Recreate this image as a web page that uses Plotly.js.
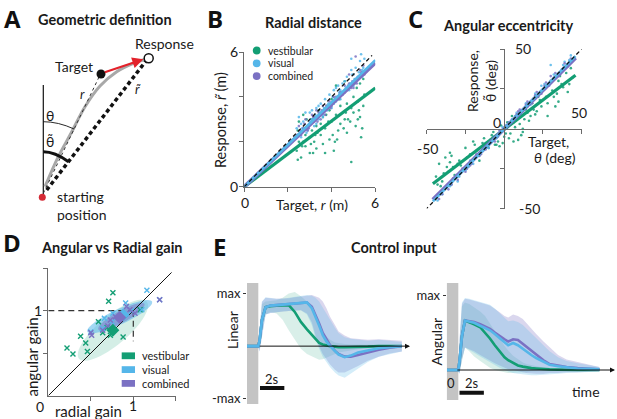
<!DOCTYPE html>
<html><head><meta charset="utf-8">
<script src="https://cdn.plot.ly/plotly-3.0.1.min.js"></script>
<style>html,body{margin:0;padding:0;background:#fff}#chart{width:617px;height:419px}</style>
</head><body><div id="chart"></div>
<script>
// ---------- colours ----------
const cVest = '#139e74', cVis = '#55b6e9', cComb = '#7b71c3';
const seriesNames = ['vestibular', 'visual', 'combined'];

// ---------- Panel A : geometric diagram (diagram units) ----------
const aVertX = [43.3, 43.3], aVertY = [85, 196];
const aTrajX = [45, 58.3, 71, 85, 100, 116.7, 133.3, 146];
const aTrajY = [186.7, 156.7, 133.3, 106.7, 86, 71.7, 63.3, 59];
const aRX = [43.3, 100], aRY = [193.3, 75];
const aRtX = [46.7, 146.7], aRtY = [190, 60];
const aStart = [42.3, 197.3], aTarget = [101, 74], aResponse = [148.7, 58.3];
const aArrowFrom = [103.3, 72.7], aArrowTo = [143.3, 59.3];
const aThetaArc = [[43.3, 121.7], [58.2, 121.7], [74.1, 129]];
const aThetaTArc = [[43.3, 151.7], [54.9, 151.7], [68.5, 161.7]];

// ---------- Panel B : radial distance ----------
const bVestR  = [2.4,2.5,2.5,2.6,2.6,2.7,2.8,2.9,3.0,3.0,3.1,3.2,3.3,3.3,3.4,3.5,3.6,3.6,3.7,3.8,3.9,4.0,4.0,4.1,4.2,4.3,4.4,4.4,4.5,4.6,4.7,4.7,4.8,4.9,5.0,5.0,5.1,5.2,5.3,5.3,5.4,5.5,2.8,3.5,4.2,4.9,5.2,3.1,3.9,4.6,2.45,2.7,3.25,3.7,4.15,4.65,5.15,5.45,
  2.45,2.55,2.85,3.05,3.35,3.55,3.85,4.05,4.35,4.55,4.85,5.05,5.25,5.45,3.15,3.75,4.25,4.75,2.65,5.35];
const bVestRt = [1.6,2.9,2.0,1.3,2.4,3.2,1.8,2.6,1.5,2.2,3.0,2.0,2.7,1.7,3.4,2.3,1.9,3.1,2.6,3.6,2.1,2.9,3.9,1.6,3.2,2.5,3.6,2.8,4.2,3.0,2.4,3.7,4.4,1.1,3.3,4.0,2.7,3.8,4.6,3.1,2.6,4.1,2.3,2.8,4.5,3.5,3.0,2.5,3.4,4.7,1.2,2.0,2.3,1.5,2.0,3.3,4.4,3.6,
  2.5,1.9,3.0,1.9,2.4,3.3,2.9,2.3,3.9,2.6,2.9,4.6,3.4,4.8,1.5,3.2,2.1,3.0,1.8,2.2];
const bVisR   = [2.4,2.5,2.6,2.7,2.8,2.9,3.0,3.1,3.2,3.3,3.4,3.5,3.6,3.7,3.8,3.9,4.0,4.1,4.2,4.3,4.4,4.5,4.6,4.7,4.8,4.9,5.0,5.1,5.2,5.3,5.4,5.5,2.6,3.0,3.4,3.8,4.2,4.6,5.0,5.4,2.9,3.6,4.4,5.2,4.9,4.1,3.3,
  2.45,2.65,2.85,3.05,3.25,3.45,3.65,3.85,4.05,4.25,4.45,4.65,4.85,5.05,5.25,5.45,3.15,4.35,4.95,5.35];
const bVisRt  = [2.6,3.1,2.2,2.9,3.3,2.5,2.9,3.4,2.7,3.5,3.0,3.7,3.2,3.9,3.4,4.1,3.5,4.3,3.8,4.5,3.9,4.6,4.2,4.9,4.3,5.2,4.5,5.3,4.8,5.6,4.9,5.7,2.8,3.3,3.6,3.6,4.4,4.7,5.0,5.2,2.6,3.1,4.3,6.1,5.7,3.7,2.8,
  2.3,2.6,2.4,3.0,3.2,3.3,3.5,3.7,4.0,3.9,4.1,4.4,4.6,4.8,5.1,5.3,3.0,4.2,5.0,5.9];
const bCombR  = [2.4,2.5,2.7,2.8,3.0,3.1,3.2,3.4,3.5,3.6,3.8,3.9,4.0,4.2,4.3,4.4,4.6,4.7,4.8,5.0,5.1,5.2,5.4,5.5,2.6,3.3,3.7,4.1,4.5,4.9,5.3,2.9,4.0,5.1,4.8,3.2,
  2.55,2.75,2.95,3.15,3.35,3.55,3.75,3.95,4.15,4.35,4.55,4.75,4.95,5.15,5.35,5.45];
const bCombRt = [2.3,2.7,2.6,3.0,2.8,3.2,3.1,3.3,3.0,3.6,3.5,3.8,3.6,4.0,3.9,4.2,4.5,4.3,4.6,4.4,4.8,4.9,5.1,5.0,2.3,3.4,3.2,4.0,4.1,4.4,5.2,2.5,3.7,5.8,5.0,2.9,
  2.5,2.8,2.6,3.1,2.9,3.4,3.6,3.5,3.9,4.1,4.2,4.5,4.7,4.6,5.1,5.4];
const bLineX = [0, 6];
const bVestFit = [0, 4.4], bVisFit = [0, 5.64], bCombFit = [0, 5.52];
const bUnityX = [0, 5.85], bUnityY = [0, 5.85];

// ---------- Panel C : angular eccentricity ----------
const cVestT  = [-44,-42,-40,-38,-36,-35,-33,-31,-29,-27,-25,-22,-19,-16,-13,-10,-7,-4,-2,0,2,4,6,8,10,12,14,16,18,20,22,24,26,28,30,32,34,36,38,40,42,44,-41,-37,-30,-20,-5,5,15,25,35,43,-34,33,28,-3,3,9,12,
  -43,-39,-35,-32,-28,-24,-18,-14,-8,-6,1,7,11,17,21,23,27,31,35,37,41,-1,13,19];
const cVestRt = [-30,-22,-33,-18,-27,-15,-24,-30,-20,-26,-12,-16,-10,-20,-6,-12,-2,-8,2,-5,4,-3,-8,6,3,-2,12,5,16,9,20,14,25,16,30,20,22,33,26,35,28,32,-36,-24,-22,-8,-10,8,10,18,30,38,-17,14,8,-11,-6,-7,0,
  -35,-28,-21,-29,-23,-18,-14,-9,-4,-10,-3,1,-4,8,11,18,20,24,17,28,23,-9,6,12];
const cVisT   = [-43,-40,-37,-34,-31,-28,-25,-22,-19,-16,-13,-10,-7,-4,-1,2,5,8,11,14,17,20,23,26,29,32,35,38,41,43,-30,-12,6,24,39,30,-20,15,
  -41,-35,-29,-23,-17,-11,-5,1,7,13,19,25,31,37,42];
const cVisRt  = [-45,-41,-36,-35,-29,-27,-26,-20,-18,-17,-11,-12,-5,-5,1,1,6,10,9,16,15,22,22,28,27,34,33,40,39,46,-33,-9,4,27,42,40,-22,14,
  -40,-36,-30,-24,-16,-10,-6,2,8,12,19,24,30,37,43];
const cCombT  = [-42,-39,-36,-33,-30,-27,-24,-21,-18,-15,-12,-9,-6,-3,0,3,6,9,12,15,18,21,24,27,30,33,36,39,42,10,30,-25,20,
  -40,-34,-28,-22,-16,-10,-4,2,8,14,20,26,32,38,43];
const cCombRt = [-44,-38,-38,-31,-32,-25,-25,-22,-16,-16,-13,-7,-8,-1,0,4,4,11,11,17,16,23,22,29,29,35,34,41,41,12,33,-27,21,
  -41,-35,-27,-23,-17,-9,-4,1,9,15,19,27,32,38,44];
const cLineX = [-46, 46];
const cVestFit = [-34.5, 33.6], cVisFit = [-45.5, 45.5], cCombFit = [-44.5, 44.5];
const cUnity = [-51, 51];

// ---------- Panel D : angular vs radial gain ----------
const dVestRad = [0.22,0.29,0.38,0.44,0.46,0.59,0.64,0.71,0.76,0.73,0.88,1.08,0.69];
const dVestAng = [0.56,0.49,0.70,0.62,0.52,0.87,0.74,1.11,1.21,0.71,0.69,1.01,0.80];
const dVisRad  = [1.16,1.31,0.91,0.76,0.75,0.64,1.10,0.50,0.66,0.98,0.85];
const dVisAng  = [1.24,1.13,1.09,0.97,0.87,0.79,1.01,0.75,0.91,1.00,0.95];
const dCombRad = [0.50,0.64,0.73,0.79,0.84,0.92,1.02,1.31,0.51,0.96,0.70];
const dCombAng = [0.74,0.77,0.89,0.93,0.93,1.05,0.97,1.13,0.71,1.01,0.82];
const dMeanRad = [0.76, 0.88, 0.84];
const dMeanAng = [0.77, 0.95, 0.92];
// covariance ellipses: centre, semi-axes, tilt (deg)
const dEllCx = [0.76, 0.84, 0.86], dEllCy = [0.77, 0.93, 0.93];
const dEllA  = [0.52, 0.42, 0.31], dEllB = [0.17, 0.09, 0.07], dEllAng = [40, 25, 29];
const dUnity = [0, 1.45];
const dRefH_X = [0, 1], dRefH_Y = [1, 1];
const dRefV_X = [1, 1], dRefV_Y = [1, 0.64];

// ---------- Panel E : control input ----------
const eLinT = [-0.93,0,0.1,0.3,0.6,1.0,1.5,2.0,2.5,3.0,3.5,4.0,4.4,4.7,5.0,5.3,5.6,5.9,6.3,6.6,7.1,7.6,8.2,9.0,9.9,10.8,11.8];
const eLinVis  = [0,0,0.1,0.5,0.74,0.77,0.78,0.79,0.8,0.81,0.82,0.83,0.72,0.57,0.39,0.21,0.09,0.0,-0.1,-0.16,-0.21,-0.18,-0.12,-0.08,-0.04,-0.02,0];
const eLinComb = [0,0,0.1,0.5,0.74,0.77,0.78,0.79,0.8,0.81,0.82,0.83,0.75,0.6,0.43,0.25,0.12,0.02,-0.09,-0.15,-0.2,-0.2,-0.17,-0.12,-0.07,-0.03,0];
const eLinVest = [0,0,0.1,0.5,0.74,0.76,0.77,0.78,0.78,0.65,0.46,0.32,0.21,0.13,0.06,0.03,0.01,0,-0.01,-0.02,-0.02,-0.02,-0.02,-0.01,0,0,0];
const eLinVisHi  = [0.02,0.02,0.3,0.85,0.93,0.92,0.9,0.9,0.92,0.94,0.95,0.97,0.96,0.92,0.85,0.75,0.62,0.5,0.35,0.25,0.17,0.14,0.12,0.1,0.12,0.1,0.08];
const eLinVisLo  = [-0.02,-0.02,-0.1,0.2,0.6,0.63,0.65,0.66,0.67,0.68,0.68,0.6,0.4,0.15,-0.05,-0.2,-0.3,-0.4,-0.5,-0.56,-0.6,-0.52,-0.42,-0.3,-0.2,-0.15,-0.1];
const eLinCombHi = [0.02,0.02,0.3,0.84,0.92,0.91,0.9,0.9,0.91,0.93,0.95,0.96,0.97,0.95,0.92,0.85,0.72,0.56,0.4,0.28,0.2,0.15,0.13,0.12,0.13,0.12,0.1];
const eLinCombLo = [-0.02,-0.02,-0.1,0.2,0.6,0.63,0.65,0.66,0.67,0.68,0.68,0.62,0.45,0.2,0.0,-0.15,-0.25,-0.35,-0.45,-0.5,-0.5,-0.45,-0.38,-0.28,-0.2,-0.14,-0.1];
const eLinVestHi = [0.01,0.01,0.3,0.8,0.85,0.86,0.87,0.92,1.0,1.03,0.95,0.85,0.72,0.55,0.4,0.28,0.18,0.12,0.07,0.05,0.04,0.03,0.03,0.02,0.02,0.02,0.02];
const eLinVestLo = [-0.01,-0.01,-0.05,0.3,0.6,0.65,0.62,0.5,0.3,0.12,-0.05,-0.15,-0.2,-0.23,-0.26,-0.25,-0.22,-0.18,-0.14,-0.12,-0.1,-0.08,-0.06,-0.04,-0.03,-0.02,-0.02];

const eAngT = [-0.93,0,0.1,0.3,0.55,0.9,1.3,1.8,2.2,2.6,3.0,3.4,3.8,4.1,4.5,4.9,5.3,5.6,6.0,6.4,7.0,7.5,8.2,8.9,9.8,10.7,11.6];
const eAngVis  = [0,0,0.12,0.45,0.66,0.65,0.63,0.59,0.56,0.53,0.48,0.42,0.37,0.33,0.36,0.33,0.28,0.24,0.2,0.16,0.11,0.07,0.05,0.035,0.02,0.015,0.01];
const eAngComb = [0,0,0.12,0.45,0.66,0.65,0.64,0.61,0.58,0.55,0.5,0.45,0.41,0.38,0.41,0.4,0.35,0.3,0.25,0.2,0.13,0.08,0.06,0.04,0.025,0.015,0.01];
const eAngVest = [0,0,0.12,0.45,0.66,0.64,0.61,0.57,0.5,0.42,0.33,0.25,0.17,0.13,0.09,0.06,0.045,0.035,0.025,0.02,0.01,0.008,0.005,0,0,0,0];
const eAngVisHi  = [0.02,0.02,0.4,0.9,0.96,0.95,0.93,0.91,0.89,0.87,0.82,0.76,0.7,0.65,0.66,0.64,0.6,0.55,0.48,0.42,0.33,0.25,0.17,0.12,0.09,0.06,0.04];
const eAngVisLo  = [-0.02,-0.02,-0.05,0.15,0.3,0.27,0.23,0.18,0.14,0.11,0.07,0.03,0.0,-0.02,-0.04,-0.05,-0.06,-0.07,-0.07,-0.07,-0.06,-0.06,-0.05,-0.04,-0.03,-0.03,-0.02];
const eAngCombHi = [0.02,0.02,0.4,0.88,0.95,0.94,0.92,0.9,0.88,0.86,0.82,0.77,0.72,0.7,0.74,0.72,0.68,0.62,0.55,0.48,0.38,0.3,0.2,0.14,0.1,0.07,0.04];
const eAngCombLo = [-0.02,-0.02,-0.05,0.14,0.3,0.28,0.25,0.2,0.16,0.13,0.09,0.06,0.03,0.01,0.0,-0.02,-0.03,-0.04,-0.05,-0.05,-0.05,-0.04,-0.04,-0.03,-0.03,-0.02,-0.02];
const eAngVestHi = [0.01,0.01,0.35,0.85,0.9,0.88,0.84,0.78,0.72,0.62,0.52,0.42,0.32,0.26,0.19,0.14,0.1,0.08,0.06,0.05,0.03,0.02,0.015,0.01,0.01,0.01,0.01];
const eAngVestLo = [-0.01,-0.01,-0.03,0.12,0.3,0.25,0.18,0.12,0.07,0.03,0.0,-0.02,-0.03,-0.04,-0.04,-0.04,-0.03,-0.03,-0.02,-0.02,-0.02,-0.01,-0.01,-0.01,-0.01,-0.01,-0.01];

// ---------- helpers ----------
const W = 617, H = 419;
const fx = p => p / W, fy = p => 1 - p / H;
const FONT = 'Lato, "Noto Sans", sans-serif';
const TXT = '#1a1a1a', AX = '#6a6a6a';

function sc(x, y, ax, opts) {
  return Object.assign({type: 'scatter', x: x, y: y, xaxis: 'x' + ax, yaxis: 'y' + ax,
    hoverinfo: 'skip', showlegend: false}, opts);
}
function line(x, y, ax, color, width, dash) {
  return sc(x, y, ax, {mode: 'lines', line: {color: color, width: width, dash: dash || 'solid'}});
}
function band(t, lo, hi, ax, fill) {
  return sc(t.concat(t.slice().reverse()), lo.concat(hi.slice().reverse()), ax,
    {mode: 'lines', line: {width: 0}, fill: 'toself', fillcolor: fill});
}
function ann(text, x, y, size, extra) {
  return Object.assign({text: text, x: fx(x), y: fy(y), xref: 'paper', yref: 'paper', showarrow: false,
    xanchor: 'center', yanchor: 'middle', font: {family: FONT, size: size, color: TXT}}, extra || {});
}
function ellipsePath(cx, cy, a, b, angDeg) {
  const th = angDeg * Math.PI / 180; let d = '';
  for (let k = 0; k <= 60; k++) {
    const p = 2 * Math.PI * k / 60;
    const ex = a * Math.cos(p), ey = b * Math.sin(p);
    const X = cx + ex * Math.cos(th) - ey * Math.sin(th);
    const Y = cy + ex * Math.sin(th) + ey * Math.cos(th);
    d += (k === 0 ? 'M ' : ' L ') + X.toFixed(4) + ' ' + Y.toFixed(4);
  }
  return d + ' Z';
}

const traces = [];
// Panel A
traces.push(line(aVertX, aVertY, '', '#111', 1.2));
traces.push(sc(aTrajX, aTrajY, '', {mode: 'lines', line: {color: '#a8a8a8', width: 3, shape: 'spline'}}));
traces.push(line(aRX, aRY, '', '#333', 1, '3px,3px'));
traces.push(line(aRtX, aRtY, '', '#111', 3.5, '4px,3px'));
traces.push(sc([aStart[0]], [aStart[1]], '', {mode: 'markers', marker: {color: '#d42a35', size: 7}}));
traces.push(sc([aTarget[0]], [aTarget[1]], '', {mode: 'markers', marker: {color: '#111', size: 9}}));
traces.push(sc([aResponse[0]], [aResponse[1]], '', {mode: 'markers', marker: {color: '#fff', size: 9, line: {color: '#111', width: 1.5}}}));

// Panel B
const dot = c => ({color: c, size: 2.6, opacity: 0.85});
traces.push(sc(bVestR, bVestRt, '2', {mode: 'markers', marker: dot(cVest), cliponaxis: false}));
traces.push(sc(bVisR, bVisRt, '2', {mode: 'markers', marker: dot(cVis), cliponaxis: false}));
traces.push(sc(bCombR, bCombRt, '2', {mode: 'markers', marker: dot(cComb), cliponaxis: false}));
traces.push(line(bLineX, bVestFit, '2', cVest, 3.2));
traces.push(line(bLineX, bCombFit, '2', cComb, 4));
traces.push(line(bLineX, bVisFit, '2', cVis, 2.6));
traces.push(Object.assign(line(bUnityX, bUnityY, '2', '#111', 1.3, '4px,3px'), {cliponaxis: false}));

// Panel C
traces.push(sc(cVestT, cVestRt, '3', {mode: 'markers', marker: dot(cVest), cliponaxis: false}));
traces.push(sc(cVisT, cVisRt, '3', {mode: 'markers', marker: dot(cVis), cliponaxis: false}));
traces.push(sc(cCombT, cCombRt, '3', {mode: 'markers', marker: dot(cComb), cliponaxis: false}));
traces.push(Object.assign(line(cLineX, cVestFit, '3', cVest, 3.2), {cliponaxis: false}));
traces.push(Object.assign(line(cLineX, cCombFit, '3', cComb, 4), {cliponaxis: false}));
traces.push(Object.assign(line(cLineX, cVisFit, '3', cVis, 2.6), {cliponaxis: false}));
traces.push(Object.assign(line(cUnity, cUnity, '3', '#111', 1.3, '4px,3px'), {cliponaxis: false}));

// Panel D
traces.push(line(dUnity, dUnity, '4', '#111', 1));
traces.push(line(dRefH_X, dRefH_Y, '4', '#333', 1.2, '6px,4px'));
traces.push(line(dRefV_X, dRefV_Y, '4', '#333', 1.2, '6px,4px'));
const cross = c => ({symbol: 'x-thin', size: 5, line: {color: c, width: 1.4}});
traces.push(sc(dVestRad, dVestAng, '4', {mode: 'markers', marker: cross(cVest), cliponaxis: false}));
traces.push(sc(dVisRad, dVisAng, '4', {mode: 'markers', marker: cross(cVis), cliponaxis: false}));
traces.push(sc(dCombRad, dCombAng, '4', {mode: 'markers', marker: cross(cComb), cliponaxis: false}));
traces.push(sc(dMeanRad, dMeanAng, '4', {mode: 'markers', marker: {symbol: 'diamond', size: 10, color: [cVest, cVis, cComb]}}));

// Panel E bands + curves
traces.push(band(eLinT, eLinVestLo, eLinVestHi, '5', 'rgba(19,158,116,0.16)'));
traces.push(band(eLinT, eLinCombLo, eLinCombHi, '5', 'rgba(123,113,195,0.28)'));
traces.push(band(eLinT, eLinVisLo, eLinVisHi, '5', 'rgba(85,182,233,0.25)'));
traces.push(line(eLinT, eLinVest, '5', cVest, 2.6));
traces.push(line(eLinT, eLinComb, '5', cComb, 2.6));
traces.push(line(eLinT, eLinVis, '5', cVis, 2.6));
traces.push(band(eAngT, eAngVestLo, eAngVestHi, '6', 'rgba(19,158,116,0.16)'));
traces.push(band(eAngT, eAngCombLo, eAngCombHi, '6', 'rgba(123,113,195,0.28)'));
traces.push(band(eAngT, eAngVisLo, eAngVisHi, '6', 'rgba(85,182,233,0.25)'));
traces.push(line(eAngT, eAngVest, '6', cVest, 2.6));
traces.push(line(eAngT, eAngComb, '6', cComb, 2.6));
traces.push(line(eAngT, eAngVis, '6', cVis, 2.6));

// ---------- axes ----------
const hid = {visible: false, fixedrange: true};
const base = {showgrid: false, zeroline: false, showline: true, linecolor: AX, linewidth: 1,
  ticks: 'outside', ticklen: 4, tickcolor: AX, showticklabels: false, fixedrange: true};
const layout = {
  width: W, height: H, margin: {l: 0, r: 0, t: 0, b: 0},
  paper_bgcolor: '#fff', plot_bgcolor: 'rgba(0,0,0,0)', showlegend: false,
  font: {family: FONT, color: TXT},
  xaxis: Object.assign({}, hid, {domain: [0, fx(200)], range: [0, 200], anchor: 'y'}),
  yaxis: Object.assign({}, hid, {domain: [fy(215), 1], range: [215, 0], anchor: 'x'}),
  xaxis2: Object.assign({}, base, {domain: [fx(244.3), fx(375.3)], range: [0, 6], anchor: 'y2', tickvals: [0, 2, 4, 6]}),
  yaxis2: Object.assign({}, base, {domain: [fy(186.7), fy(52)], range: [0, 6], anchor: 'x2', tickvals: [0, 2, 4, 6]}),
  xaxis3: Object.assign({}, base, {domain: [fx(426.7), fx(581.7)], range: [-50, 50], anchor: 'free', position: fy(128.75), tickvals: [-50, -25, 25, 50]}),
  yaxis3: Object.assign({}, base, {domain: [fy(208.5), fy(49)], range: [-50, 50], anchor: 'free', position: fx(504), tickvals: [-50, -25, 25, 50]}),
  xaxis4: Object.assign({}, base, {domain: [fx(48.3), fx(175.8)], range: [0, 1.5], anchor: 'y4', tickvals: [0.5, 1, 1.5]}),
  yaxis4: Object.assign({}, base, {domain: [fy(395.7), fy(268.2)], range: [0, 1.5], anchor: 'x4', tickvals: [0.5, 1, 1.5]}),
  xaxis5: Object.assign({}, hid, {domain: [fx(247), fx(410)], range: [-0.93, 12.47], anchor: 'y5'}),
  yaxis5: {domain: [fy(404), fy(283)], range: [-1.1, 1.2], anchor: 'x5', showgrid: false, zeroline: false, showline: false,
    ticks: 'outside', ticklen: 3, tickcolor: '#333', tickvals: [1, -1], ticktext: ['max', '-max'],
    tickfont: {family: FONT, size: 13, color: TXT}, fixedrange: true},
  xaxis6: Object.assign({}, hid, {domain: [fx(446.7), fx(615)], range: [-0.953, 12.876], anchor: 'y6'}),
  yaxis6: {domain: [fy(400), fy(283)], range: [-0.4, 1.16], anchor: 'x6', showgrid: false, zeroline: false, showline: false,
    ticks: 'outside', ticklen: 3, tickcolor: '#333', tickvals: [1], ticktext: ['max'],
    tickfont: {family: FONT, size: 13, color: TXT}, fixedrange: true},
  shapes: [], annotations: []
};

// ---------- shapes ----------
const S = layout.shapes;
S.push({type: 'path', xref: 'x', yref: 'y', line: {color: '#111', width: 0.9},
  path: `M ${aThetaArc[0][0]} ${aThetaArc[0][1]} Q ${aThetaArc[1][0]} ${aThetaArc[1][1]} ${aThetaArc[2][0]} ${aThetaArc[2][1]}`});
S.push({type: 'path', xref: 'x', yref: 'y', line: {color: '#111', width: 3},
  path: `M ${aThetaTArc[0][0]} ${aThetaTArc[0][1]} Q ${aThetaTArc[1][0]} ${aThetaTArc[1][1]} ${aThetaTArc[2][0]} ${aThetaTArc[2][1]}`});
const ellFill = ['rgba(19,158,116,0.18)', 'rgba(85,182,233,0.55)', 'rgba(123,113,195,0.5)'];
for (let i = 0; i < 3; i++) {
  S.push({type: 'path', xref: 'x4', yref: 'y4', layer: 'below', line: {width: 0}, fillcolor: ellFill[i],
    path: ellipsePath(dEllCx[i], dEllCy[i], dEllA[i], dEllB[i], dEllAng[i])});
}
S.push({type: 'rect', xref: 'x5', yref: 'y5', x0: -0.93, x1: 0, y0: -1.1, y1: 1.2, fillcolor: '#c4c4c4', line: {width: 0}, layer: 'below'});
S.push({type: 'rect', xref: 'x6', yref: 'y6', x0: -0.953, x1: 0, y0: -0.4, y1: 1.16, fillcolor: '#c4c4c4', line: {width: 0}, layer: 'below'});
S.push({type: 'line', xref: 'x5', yref: 'paper', x0: 0.14, x1: 2.14, y0: fy(388), y1: fy(388), line: {color: '#111', width: 4}});
S.push({type: 'line', xref: 'x6', yref: 'paper', x0: 0.1, x1: 2.1, y0: fy(392.7), y1: fy(392.7), line: {color: '#111', width: 4}});
const legCols = [cVest, cVis, cComb];
const bLegY = [50.5, 63.3, 76.1];
for (let i = 0; i < 3; i++) {
  S.push({type: 'circle', xref: 'paper', yref: 'paper', x0: fx(252.8), x1: fx(260.6), y0: fy(bLegY[i] + 3.9), y1: fy(bLegY[i] - 3.9),
    fillcolor: legCols[i], line: {width: 0}});
}
const dLegY = [355.8, 369.6, 383.4];
for (let i = 0; i < 3; i++) {
  S.push({type: 'rect', xref: 'paper', yref: 'paper', x0: fx(121.7), x1: fx(135), y0: fy(dLegY[i] + 3.4), y1: fy(dLegY[i] - 3.4),
    fillcolor: legCols[i], line: {width: 0}});
}

// ---------- annotations ----------
const A = layout.annotations;
const letter = {family: '"Open Sans", Lato, sans-serif', size: 24, color: '#111', weight: 800};
[['A', 12, 19], ['B', 215, 18], ['C', 415, 18], ['D', 12, 242], ['E', 219, 246]].forEach(l => {
  A.push(ann('<b>' + l[0] + '</b>', l[1], l[2], 24, {font: letter}));
});
[['Geometric definition', 105, 20], ['Radial distance', 313, 22.5], ['Angular eccentricity', 508, 25],
 ['Angular vs Radial gain', 112, 248], ['Control input', 394, 248]].forEach(t => {
  A.push(ann('<b>' + t[0] + '</b>', t[1], t[2], 14.5));
});
A.push(ann('Target', 74, 66.5, 14));
A.push(ann('Response', 164.7, 44, 14));
A.push(ann('<i>r</i>', 82.3, 94, 13));
A.push(ann('<i>r̃</i>', 137.7, 89, 13));
A.push(ann('θ', 50, 116, 14));
A.push(ann('θ̃', 50, 141, 14));
A.push(ann('starting<br>position', 55, 205, 14, {xanchor: 'left', align: 'left'}));
A.push({x: aArrowTo[0], y: aArrowTo[1], ax: aArrowFrom[0], ay: aArrowFrom[1], xref: 'x', yref: 'y', axref: 'x', ayref: 'y',
  showarrow: true, arrowhead: 2, arrowsize: 1, arrowwidth: 2.2, arrowcolor: '#e3222b', text: ''});
A.push(ann('0', 240, 186.7, 14, {xanchor: 'right'}));
A.push(ann('6', 240, 51.7, 14, {xanchor: 'right'}));
A.push(ann('0', 244.5, 203, 14));
A.push(ann('6', 375, 203, 14));
A.push(ann('Target, <i>r</i> (m)', 311.7, 204, 14));
A.push(ann('Response, <i>r̃</i> (m)', 221, 120, 14.5, {textangle: -90}));
seriesNames.forEach((n, i) => A.push(ann(n, 265.5, bLegY[i], 10.5, {xanchor: 'left'})));
A.push(ann('50', 513, 49, 14, {xanchor: 'left'}));
A.push(ann('-50', 517, 208.5, 14, {xanchor: 'left'}));
A.push(ann('0', 497, 122, 14));
A.push(ann('50', 579, 113, 14));
A.push(ann('-50', 427, 148, 14));
A.push(ann('Target,', 571, 141.5, 14, {xanchor: 'right'}));
A.push(ann('<i>θ</i> (deg)', 578, 157, 14, {xanchor: 'right'}));
A.push(ann('Response,<br>θ̃ (deg)', 481, 81, 14, {textangle: -90}));
A.push(ann('0', 40, 406.5, 14));
A.push(ann('1', 133.3, 405.5, 14));
A.push(ann('1', 38, 310.7, 14));
A.push(ann('radial gain', 88, 411, 15));
A.push(ann('angular gain', 31, 357.5, 15, {textangle: -90}));
seriesNames.forEach((n, i) => A.push(ann(n, 139.5, dLegY[i], 11, {xanchor: 'left'})));
A.push(ann('Linear', 232, 330, 14, {textangle: -90}));
A.push(ann('Angular', 436, 341.5, 14, {textangle: -90}));
A.push(ann('2s', 272, 378.5, 13));
A.push(ann('2s', 472, 382.7, 13));
A.push(ann('0', 451, 383.3, 13));
A.push(ann('time', 586, 391.7, 14));
A.push({x: 12.47, y: 0, ax: 0, ay: 0, xref: 'x5', yref: 'y5', axref: 'x5', ayref: 'y5', showarrow: true,
  arrowhead: 2, arrowsize: 1, arrowwidth: 1, arrowcolor: '#111', text: ''});
A.push({x: 12.876, y: 0, ax: -0.2, ay: 0, xref: 'x6', yref: 'y6', axref: 'x6', ayref: 'y6', showarrow: true,
  arrowhead: 2, arrowsize: 1, arrowwidth: 1, arrowcolor: '#111', text: ''});

Plotly.newPlot('chart', traces, layout, {displayModeBar: false, staticPlot: true});
</script>
</body></html>
